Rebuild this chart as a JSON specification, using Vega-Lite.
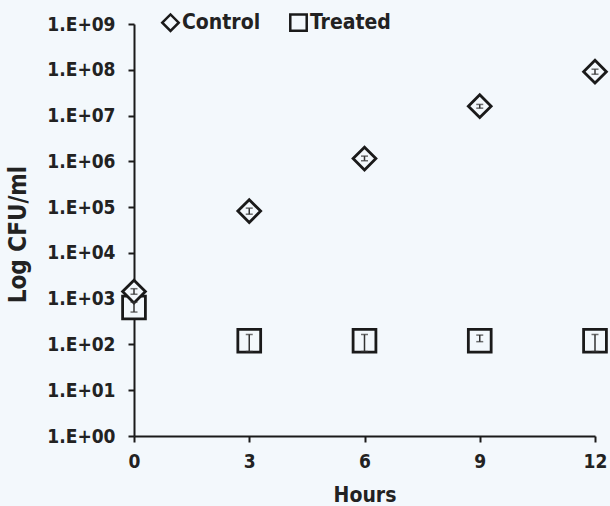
{
  "$schema": "https://vega.github.io/schema/vega-lite/v6.json",
  "width": 461,
  "height": 412,
  "autosize": {"type": "none"},
  "padding": {"left": 134, "top": 24, "right": 15, "bottom": 70},
  "background": "#f3f8fc",
  "config": {
    "view": {"stroke": null},
    "font": "DejaVu Sans Condensed, DejaVu Sans",
    "axis": {
      "grid": false,
      "domainColor": "#1a1a1a",
      "domainWidth": 2,
      "tickColor": "#1a1a1a",
      "tickWidth": 2,
      "tickSize": 6,
      "labelFontSize": 19,
      "labelFontWeight": "bold",
      "labelColor": "#222222",
      "labelFlush": false,
      "titleFontSize": 21,
      "titleFontWeight": "bold",
      "titleColor": "#222222"
    },
    "legend": {
      "orient": "none",
      "legendX": 26,
      "legendY": -12,
      "direction": "horizontal",
      "symbolSize": 270,
      "symbolStrokeWidth": 2.5,
      "labelFontSize": 21,
      "labelFontWeight": "bold",
      "labelColor": "#222222",
      "labelOffset": 1,
      "columnPadding": 24,
      "padding": 0
    }
  },
  "data": {
    "values": [
      {"group": "Treated", "hours": 0, "cfu": 640, "lo": 510, "hi": 840},
      {"group": "Treated", "hours": 3, "cfu": 120, "lo": 70, "hi": 165},
      {"group": "Treated", "hours": 6, "cfu": 120, "lo": 70, "hi": 165},
      {"group": "Treated", "hours": 9, "cfu": 120, "lo": 115, "hi": 160},
      {"group": "Treated", "hours": 12, "cfu": 120, "lo": 70, "hi": 165},
      {"group": "Control", "hours": 0, "cfu": 1430, "lo": 1250, "hi": 1650},
      {"group": "Control", "hours": 3, "cfu": 81800, "lo": 70000, "hi": 95000},
      {"group": "Control", "hours": 6, "cfu": 1150000, "lo": 1030000, "hi": 1300000},
      {"group": "Control", "hours": 9, "cfu": 16000000, "lo": 14500000, "hi": 17500000},
      {"group": "Control", "hours": 12, "cfu": 91000000, "lo": 80000000, "hi": 103000000}
    ]
  },
  "layer": [
    {
      "mark": {"type": "point", "filled": true, "strokeWidth": 2.8, "size": 520, "opacity": 1},
      "encoding": {
        "x": {"field": "hours", "type": "quantitative", "title": "Hours",
              "scale": {"domain": [0, 12], "nice": false},
              "axis": {"values": [0, 3, 6, 9, 12], "labelPadding": 10, "titlePadding": 13}},
        "y": {"field": "cfu", "type": "quantitative", "title": "Log CFU/ml",
              "scale": {"type": "log", "domain": [1, 1000000000], "nice": false},
              "axis": {"values": [1, 10, 100, 1000, 10000, 100000, 1000000, 10000000, 100000000, 1000000000],
                       "labelExpr": "'1.E+0' + round(log(datum.value)/LN10)",
                       "labelPadding": 13, "titlePadding": 16, "titleFontSize": 24, "titleY": 210}},
        "shape": {"field": "group", "type": "nominal",
                  "scale": {"domain": ["Control", "Treated"], "range": ["diamond", "square"]},
                  "legend": {"title": null}},
        "fill": {"field": "group", "type": "nominal",
                 "scale": {"domain": ["Control", "Treated"], "range": ["#f3f8fc", "#f3f8fc"]},
                 "legend": {"title": null}},
        "stroke": {"field": "group", "type": "nominal",
                   "scale": {"domain": ["Control", "Treated"], "range": ["#1a1a1a", "#1a1a1a"]},
                   "legend": {"title": null}}
      }
    },
    {
      "mark": {"type": "rule", "stroke": "#333333", "strokeWidth": 1.5},
      "encoding": {
        "x": {"field": "hours", "type": "quantitative", "title": "Hours"},
        "y": {"field": "lo", "type": "quantitative", "title": "Log CFU/ml"},
        "y2": {"field": "hi"}
      }
    },
    {
      "mark": {"type": "tick", "orient": "horizontal", "size": 7, "thickness": 1.5, "color": "#333333"},
      "encoding": {
        "x": {"field": "hours", "type": "quantitative", "title": "Hours"},
        "y": {"field": "lo", "type": "quantitative", "title": "Log CFU/ml"}
      }
    },
    {
      "mark": {"type": "tick", "orient": "horizontal", "size": 7, "thickness": 1.5, "color": "#333333"},
      "encoding": {
        "x": {"field": "hours", "type": "quantitative", "title": "Hours"},
        "y": {"field": "hi", "type": "quantitative", "title": "Log CFU/ml"}
      }
    }
  ]
}
